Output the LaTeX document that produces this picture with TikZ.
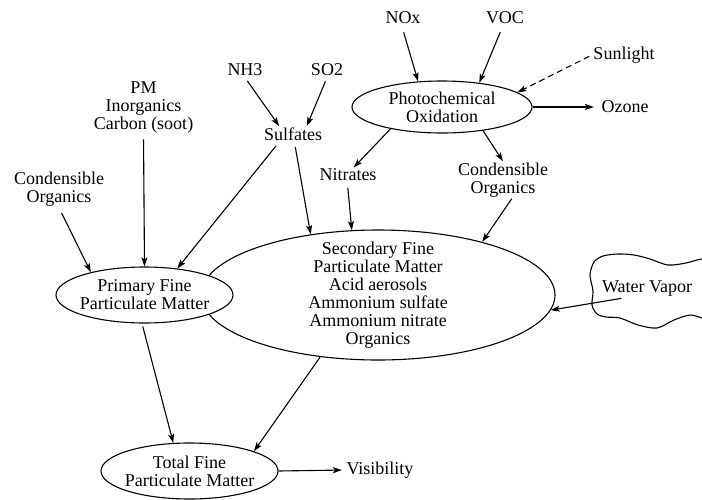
\documentclass[tikz,border=0pt]{standalone}
\usepackage{fontspec}
\setmainfont{Liberation Serif}
\usetikzlibrary{arrows.meta, shapes.geometric, positioning}

\begin{document}
\begin{tikzpicture}[x=1pt, y=-1pt, line width=1.1pt,
    every node/.style={font=\fontsize{18}{18}\selectfont, align=center, inner sep=1pt},
    blob/.style={draw, ellipse, inner xsep=-4pt, inner ysep=-8pt, fill=white},
    >={Stealth[length=9pt, width=6pt, inset=2pt]}]
    \useasboundingbox (0,0) rectangle (702,499);
    \node (nox) at (403, 18) {NOx};
    \node (voc) at (505, 18) {VOC};
    \node (sun) at (624, 55) {Sunlight};
    \node[blob, minimum width=180pt, minimum height=52pt] (photo) at (442, 107) {Photochemical\\Oxidation};
    \node (ozone) at (625, 107) {Ozone};
    \node (nh3) at (245, 70) {NH3};
    \node (so2) at (327, 70) {SO2};
    \node (sulf) at (293, 134) {Sulfates};
    \node (pm) at (143.5, 108) {PM\\Inorganics\\Carbon (soot)};
    \node (orgl) at (59, 189) {Condensible\\Organics};
    \node (nitr) at (348, 175) {Nitrates};
    \node (orgr) at (503, 180) {Condensible\\Organics};
    \node[blob, minimum width=354pt, minimum height=130pt] (sec) at (378, 295) {Secondary Fine\\Particulate Matter\\Acid aerosols\\Ammonium sulfate\\Ammonium nitrate\\Organics};
    \node[blob, minimum width=177pt, minimum height=56pt] (prim) at (144.5, 295) {Primary Fine\\Particulate Matter};
    \node (water) at (647, 289) {Water Vapor};
    \node[blob, minimum width=177pt, minimum height=56pt] (tot) at (189.5, 471) {Total Fine\\Particulate Matter};
    \node (vis) at (380, 470) {Visibility};
    \draw plot[smooth, tension=0.5] coordinates {
        (712,262) (702,259) (686,263) (668,265) (650,259) (634,255) (618,254)
        (603,256) (594,262) (590,275) (593,291) (592,305) (597,314) (606,317)
        (620,318) (638,325) (657,328) (674,320) (690,315) (702,318) (712,320)};
    \draw
    (nox.-100) edge[->, shorten <=7pt] (photo.133)
    (voc.-105) edge[->, shorten <=7pt] (photo.33)
    (sun.west) edge[->, dash pattern=on 6pt off 4pt, shorten <=3pt] (photo.11)
    (photo.east) edge[->, shorten >=6pt] (ozone.west)
    (photo.203) edge[->] (nitr.53)
    (photo.-30) edge[->] (orgr.north)
    (nh3.south) edge[->, shorten <=4pt] (sulf.150)
    (so2.south) edge[->, shorten <=4pt] (sulf.30)
    (sulf.-150) edge[->, shorten <=5pt] (prim.39)
    (sulf.-80) edge[->, shorten <=5pt] (sec.138)
    (pm.south) edge[->, shorten <=4pt] (prim.north)
    (orgl.south) edge[->, shorten <=6pt] (prim.157)
    (nitr.-95) edge[->, shorten <=5pt] (sec.112)
    (orgr.-65) edge[->] (sec.27)
    (water.-160) edge[->] (sec.-5)
    (prim.-95) edge[->, shorten <=3pt] (tot.120)
    (sec.227) edge[->] (tot.17)
    (tot.east) edge[->, shorten >=3pt] (vis.west);
\end{tikzpicture}
\end{document}
